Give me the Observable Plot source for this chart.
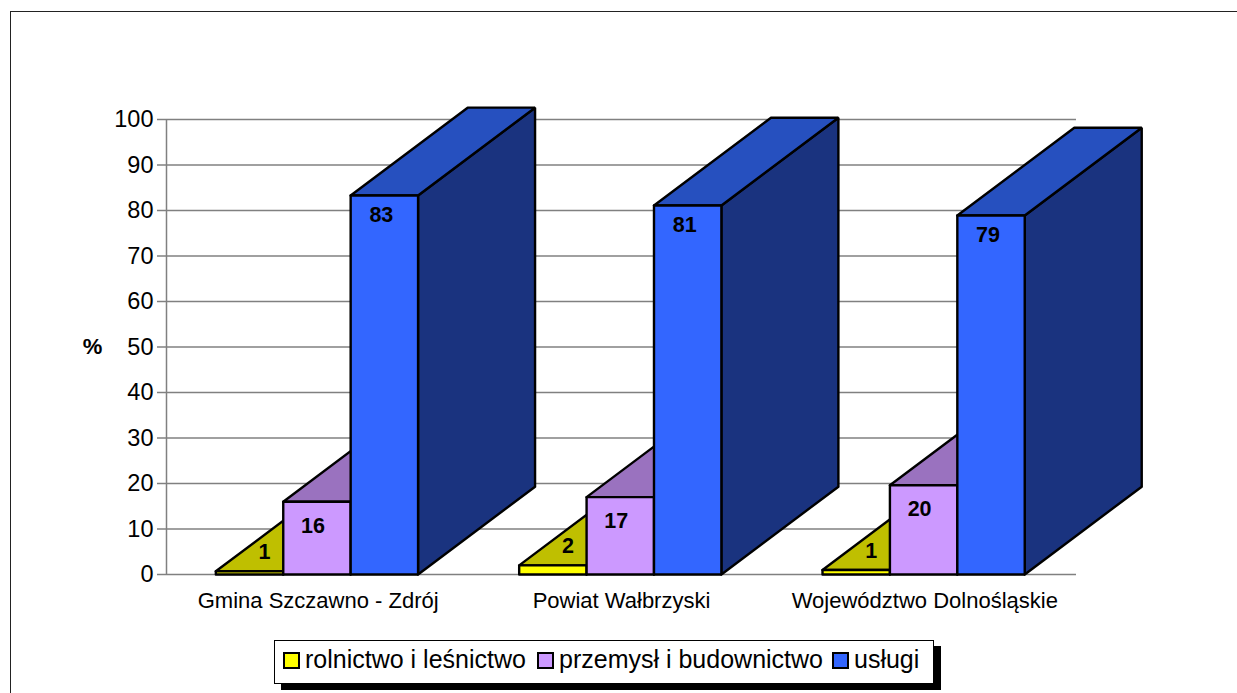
<!DOCTYPE html>
<html>
<head>
<meta charset="utf-8">
<script src="https://cdn.jsdelivr.net/npm/d3@7"></script>
<script src="https://cdn.jsdelivr.net/npm/@observablehq/plot@0.6"></script>
<style>
  html, body { margin: 0; padding: 0; background: #fff; overflow: hidden; width: 1237px; height: 693px; }
  body { position: relative; font-family: "Liberation Sans", Arial, sans-serif; color: #000; }
  #frame { position: absolute; left: 10px; top: 11px; width: 1300px; height: 800px; border: 1.5px solid #222; box-sizing: border-box; }
  #chart { position: absolute; left: 0; top: 0; }
  #chart svg { overflow: visible; background: transparent; }
  #legend { position: absolute; left: 274px; top: 640px; width: 660px; height: 44px; box-sizing: border-box;
            border: 1px solid #000; background: #fff; box-shadow: 7px 6px 0 #000; font-size: 25px; }
  #legend .item { position: absolute; top: -1px; height: 38px; display: flex; align-items: center; white-space: nowrap; }
  #legend .sw { width: 13px; height: 13px; border: 2px solid #000; margin-right: 5px; margin-top: 2px; display: inline-block; }
</style>
</head>
<body>
<div id="frame"></div>
<div id="chart"></div>
<div id="legend"></div>
<script>
const categories = ["Gmina Szczawno - Zdrój", "Powiat Wałbrzyski", "Województwo Dolnośląskie"];
const seriesNames = ["rolnictwo i leśnictwo", "przemysł i budownictwo", "usługi"];
const rolnictwo = [0.7, 2, 1];
const przemysl = [16, 17, 19.6];
const uslugi = [83.3, 81.1, 78.9];
const labelsRolnictwo = [1, 2, 1];
const labelsPrzemysl = [16, 17, 20];
const labelsUslugi = [83, 81, 79];
const frontColors = ["#ffff00", "#cc99ff", "#3366ff"];
const topColors = ["#bfbf00", "#9a72bf", "#2650bf"];
const sideColors = ["#808000", "#664d80", "#1a337f"];
const yTicks = [0, 10, 20, 30, 40, 50, 60, 70, 80, 90, 100];

const values = [rolnictwo, przemysl, uslugi];
const labels = [labelsRolnictwo, labelsPrzemysl, labelsUslugi];
const barWidth = 1 / 4.5;     // gap width of 150 %
const depthX = 0.3857;        // depth of the 3-D projection, in x units
const depthY = 19.3;          // ... and in y units
const shift = -0.004;         // bars sit a touch left of the band centre

// Each face is a closed polyline in data coordinates, in painter's order.
const faces = [];
const labelRows = [];
categories.forEach((cat, c) => {
  values.forEach((vals, s) => {
    const v = vals[c];
    const x0 = c + 0.5 + shift + (s - 1.5) * barWidth;
    const x1 = x0 + barWidth;
    const add = (name, fill, pts) => {
      [...pts, pts[0], pts[1]].forEach(([x, y]) => faces.push({id: `${c}-${s}-${name}`, x, y, fill}));
    };
    add("side", sideColors[s], [[x1, 0], [x1 + depthX, depthY], [x1 + depthX, v + depthY], [x1, v]]);
    add("top", topColors[s], [[x0, v], [x0 + depthX, v + depthY], [x1 + depthX, v + depthY], [x1, v]]);
    add("front", frontColors[s], [[x0, 0], [x0, v], [x1, v], [x1, 0]]);
    labelRows.push({x: (x0 + x1) / 2, y: v, text: String(labels[s][c]), series: s});
  });
});
const labelDx = [15, -4, -3];
const labelDy = [-19, 24, 20];

const plot = Plot.plot({
  width: 1237,
  height: 693,
  marginLeft: 166,
  marginRight: 161,
  marginTop: 119,
  marginBottom: 119,
  style: {fontFamily: '"Liberation Sans", Arial, sans-serif', color: "#000", background: "transparent"},
  x: {domain: [0, 3]},
  y: {domain: [0, 100]},
  marks: [
    Plot.ruleY(yTicks, {stroke: "#808080", strokeWidth: 1.5, strokeOpacity: 1}),
    Plot.ruleX([0], {y1: 0, y2: 100, stroke: "#808080", strokeWidth: 1.5}),
    Plot.axisY({ticks: yTicks, tickSize: 9, tickPadding: 4, stroke: "#808080", strokeWidth: 1.5, strokeOpacity: 1,
                fill: "#000", fontSize: 23.5, label: null}),
    Plot.axisX({ticks: [0.5, 1.5, 2.5], tickSize: 0, tickPadding: 18, fill: "#000", fontSize: 22, label: null,
                tickFormat: d => categories[Math.floor(d)]}),
    Plot.line(faces, {x: "x", y: "y", z: "id", fill: "fill", stroke: "#000", strokeWidth: 2.4,
                      strokeLinejoin: "miter", curve: "linear"}),
    ...[0, 1, 2].map(s => Plot.text(labelRows.filter(d => d.series === s), {
      x: "x", y: "y", text: "text", dx: labelDx[s], dy: labelDy[s],
      fontSize: 21.5, fontWeight: "bold", fill: "#000"
    })),
    Plot.text(["%"], {x: () => 0, y: () => 50, dx: -74, fontSize: 22, fontWeight: "bold", fill: "#000"})
  ]
});
document.getElementById("chart").appendChild(plot);

const legend = document.getElementById("legend");
const itemLeft = [8, 262, 557];
seriesNames.forEach((name, i) => {
  const item = document.createElement("div");
  item.className = "item";
  item.style.left = itemLeft[i] + "px";
  const sw = document.createElement("span");
  sw.className = "sw";
  sw.style.background = frontColors[i];
  const t = document.createElement("span");
  t.textContent = name;
  item.append(sw, t);
  legend.appendChild(item);
});
</script>
</body>
</html>
